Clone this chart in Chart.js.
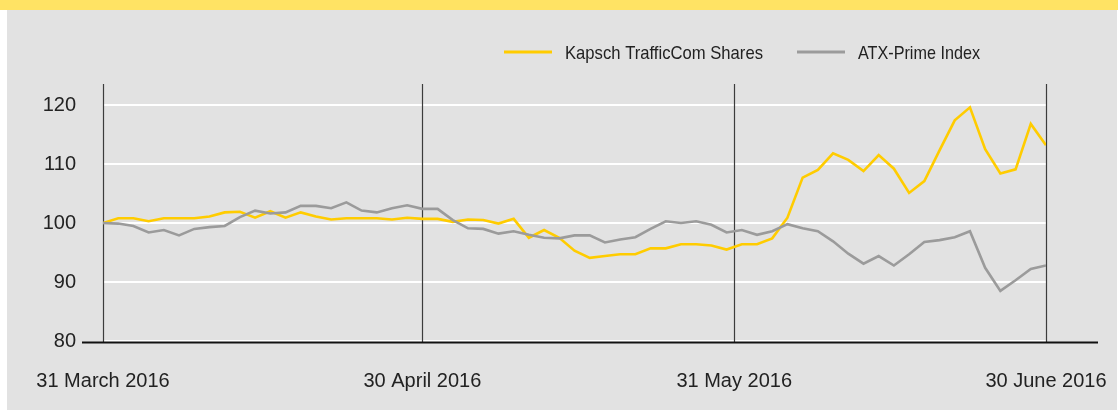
<!DOCTYPE html>
<html>
<head>
<meta charset="utf-8">
<script src="https://cdn.jsdelivr.net/npm/chart.js@4"></script>
<style>
  html, body { margin: 0; padding: 0; background: #fff; }
  #wrap { position: relative; width: 1118px; height: 410px; overflow: hidden; }
  #band { position: absolute; left: 0; top: 0; width: 1118px; height: 10px; background: #ffe364; }
  #panel { position: absolute; left: 7px; top: 10px; width: 1110px; height: 400px; background: #e2e2e2; }
  #cv { position: absolute; left: 0; top: 0; }
</style>
</head>
<body>
<div id="wrap">
  <div id="band"></div>
  <div id="panel"></div>
  <canvas id="cv" width="1118" height="410"></canvas>
</div>
<script>
// one value per trading day, 31 March 2016 = 100
const kapsch = [
  100.0, 100.8, 100.8, 100.3, 100.8, 100.8, 100.8, 101.1, 101.8, 101.9,
  100.9, 102.0, 100.9, 101.8, 101.1, 100.6, 100.8, 100.8, 100.8, 100.6,
  100.9, 100.7, 100.7, 100.2, 100.6, 100.5, 99.9, 100.7, 97.5, 98.8,
  97.5, 95.3, 94.1, 94.4, 94.7, 94.7, 95.7, 95.7, 96.4, 96.4,
  96.2, 95.5, 96.4, 96.4, 97.4, 100.9, 107.7, 109.0, 111.8, 110.7,
  108.8, 111.5, 109.2, 105.1, 107.1, 112.3, 117.4, 119.6, 112.5, 108.4,
  109.1, 116.8, 113.2
];
const atxPrime = [
  100.0, 99.9, 99.5, 98.4, 98.8, 97.9, 99.0, 99.3, 99.5, 101.0,
  102.1, 101.6, 101.8, 102.9, 102.9, 102.5, 103.5, 102.1, 101.8, 102.5,
  103.0, 102.4, 102.4, 100.5, 99.1, 99.0, 98.2, 98.6, 98.0, 97.5,
  97.4, 97.9, 97.9, 96.7, 97.2, 97.6, 99.0, 100.3, 100.0, 100.3,
  99.7, 98.4, 98.8, 98.0, 98.6, 99.8, 99.1, 98.6, 96.9, 94.8,
  93.1, 94.4, 92.8, 94.7, 96.8, 97.1, 97.6, 98.6, 92.4, 88.5,
  90.3, 92.2, 92.8
];
const seriesNames = ["Kapsch TrafficCom Shares", "ATX-Prime Index"];
const monthLabels = ["31 March 2016", "30 April 2016", "31 May 2016", "30 June 2016"];
const monthPos = [0, 21, 41.5, 62];
const yTicks = [80, 90, 100, 110, 120];

const YELLOW = "#ffcc00";
const GREY = "#9b9b9b";
const FAMILY = "'Liberation Sans', Arial, sans-serif";

const points = arr => arr.map((v, i) => ({ x: i, y: v }));

const decor = {
  id: "decor",
  beforeDatasetsDraw(chart) {
    const { ctx, scales: { x, y } } = chart;
    const base = y.getPixelForValue(80);
    ctx.save();
    // month end markers
    ctx.strokeStyle = "#3c3c3c";
    ctx.lineWidth = 1.2;
    monthPos.forEach(p => {
      const px = Math.round(x.getPixelForValue(p)) + 0.5;
      ctx.beginPath();
      ctx.moveTo(px, 84);
      ctx.lineTo(px, base + 1);
      ctx.stroke();
    });
    ctx.restore();
  },
  afterDatasetsDraw(chart) {
    const { ctx, scales: { x, y } } = chart;
    const base = y.getPixelForValue(80);
    ctx.save();
    // base line, runs past the plot both sides
    ctx.strokeStyle = "#111";
    ctx.lineWidth = 2;
    ctx.beginPath();
    ctx.moveTo(82, base + 1.5);
    ctx.lineTo(1098, base + 1.5);
    ctx.stroke();

    ctx.fillStyle = "#222";
    ctx.font = "20px " + FAMILY;
    ctx.textBaseline = "middle";
    ctx.textAlign = "center";
    monthLabels.forEach((t, i) => {
      ctx.fillText(t, x.getPixelForValue(monthPos[i]), 381);
    });

    // legend (narrow type in the original)
    ctx.textAlign = "left";
    ctx.font = "19px " + FAMILY;
    const legend = [[504, YELLOW, 198], [797, GREY, 122]];
    legend.forEach(([lx, col, w], i) => {
      ctx.strokeStyle = col;
      ctx.lineWidth = 3;
      ctx.beginPath();
      ctx.moveTo(lx, 52);
      ctx.lineTo(lx + 48, 52);
      ctx.stroke();
      ctx.fillStyle = "#222";
      ctx.fillText(seriesNames[i], lx + 61, 54, w);
    });
    ctx.restore();
  }
};

new Chart(document.getElementById("cv"), {
  type: "line",
  data: {
    datasets: [
      { label: seriesNames[1], data: points(atxPrime), borderColor: GREY, borderWidth: 2.6, pointRadius: 0, tension: 0 },
      { label: seriesNames[0], data: points(kapsch), borderColor: YELLOW, borderWidth: 2.6, pointRadius: 0, tension: 0 }
    ]
  },
  options: {
    responsive: false,
    animation: false,
    events: [],
    layout: { padding: { left: 0, right: 72, top: 105, bottom: 69 } },
    plugins: { legend: { display: false }, tooltip: { enabled: false } },
    scales: {
      x: { type: "linear", min: 0, max: 62, display: false },
      y: {
        min: 80, max: 120,
        afterFit: s => { s.width = 103; },
        afterBuildTicks: s => { s.ticks = yTicks.map(v => ({ value: v })); },
        grid: { color: "#ffffff", lineWidth: 2, drawTicks: false },
        border: { display: false },
        ticks: { padding: 27, color: "#222", font: { family: FAMILY, size: 20 } }
      }
    }
  },
  plugins: [decor]
});
</script>
</body>
</html>
